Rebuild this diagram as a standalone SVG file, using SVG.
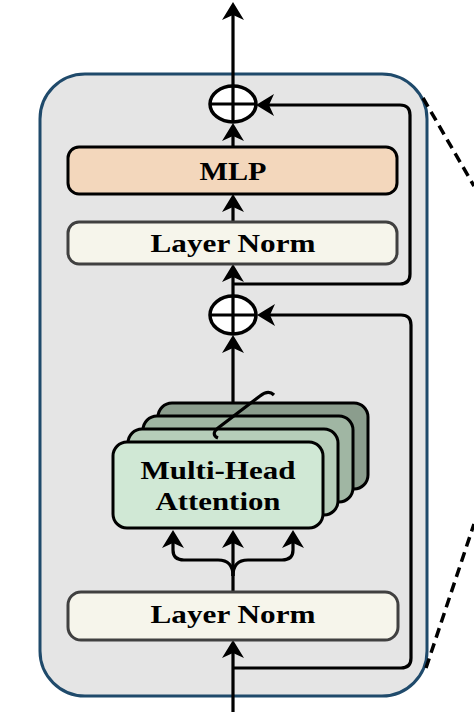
<svg xmlns="http://www.w3.org/2000/svg" width="474" height="712" viewBox="0 0 474 712">
<style>
.box{stroke:#000;stroke-width:3}
.ln{fill:#f6f5eb;stroke:#404040;stroke-width:3}
.lbl{font-family:"Liberation Serif","Times New Roman",serif;font-weight:bold;fill:#000;text-anchor:middle}
.con{fill:none;stroke:#000;stroke-width:3.2}
.arr{marker-end:url(#ah)}
.dash{fill:none;stroke:#000;stroke-width:3.5;stroke-dasharray:10 6}
.add{fill:#fff;stroke:#000;stroke-width:3.5}
</style>
<defs>
<marker id="ah" viewBox="-12 -12 24 24" markerWidth="24" markerHeight="24" markerUnits="userSpaceOnUse" refX="0" refY="0" orient="auto">
<path d="M8,0 L-10,-11 L-5,0 L-10,11 z" fill="#000"/>
</marker>
</defs>
<g id="encoder-block">
<rect x="40" y="74" width="387" height="622" rx="45" fill="#e5e5e5" stroke="#1f4a6b" stroke-width="3"/>
</g>
<g id="connectors">
<path class="con arr" d="M233,86 V10"/>
<path class="con arr" d="M233,147 V131"/>
<path class="con arr" d="M233,222 V202"/>
<path class="con arr" d="M233,295 V272"/>
<path class="con arr" d="M233,284 H400 Q410,284 410,274 V115 Q410,105 400,105 H264"/>
<path class="con arr" d="M233,403 V343"/>
<path class="con arr" d="M233,592 V538"/>
<path class="con arr" d="M233,576 Q233,560 218,560 H184 Q173,560 173,550 V538"/>
<path class="con arr" d="M233,576 Q233,560 248,560 H282 Q293,560 293,550 V538"/>
<path class="con arr" d="M233,712 V648"/>
<path class="con arr" d="M233,668 H401 Q411,668 411,658 V325 Q411,315 401,315 H265"/>
<path class="dash" d="M423,98 L474,186"/>
<path class="dash" d="M426,668 L474,524"/>
</g>
<g id="add1">
<ellipse class="add" cx="233" cy="104" rx="23" ry="18"/>
<path class="con" d="M233,86 V122 M210,104 H256"/>
</g>
<g id="mlp">
<rect class="box" x="68" y="147" width="329" height="47" rx="11" fill="#f3d7bc"/>
<text class="lbl" x="233" y="180" font-size="25" textLength="67" lengthAdjust="spacingAndGlyphs">MLP</text>
</g>
<g id="layernorm-top">
<rect class="ln" x="68" y="222" width="329" height="42" rx="11"/>
<text class="lbl" x="233" y="252" font-size="25" textLength="165" lengthAdjust="spacingAndGlyphs">Layer Norm</text>
</g>
<g id="add2">
<ellipse class="add" cx="233" cy="315" rx="23" ry="19"/>
<path class="con" d="M233,296 V334 M210,315 H256"/>
</g>
<g id="multi-head-attention">
<rect class="box" x="158" y="403" width="210" height="86" rx="14" fill="#8b9d8d"/>
<rect class="box" x="143" y="416" width="210" height="86" rx="14" fill="#a0b6a3"/>
<rect class="box" x="128" y="429" width="210" height="86" rx="14" fill="#b6cdb9"/>
<path class="con" d="M218,438 C213,436 213,432 218,428 L260,396 C265,392 270,391 274,395"/>
<rect class="box" x="113" y="442" width="210" height="86" rx="14" fill="#d0e8d5"/>
<text class="lbl" x="218" y="479" font-size="26" textLength="155" lengthAdjust="spacingAndGlyphs">Multi-Head</text>
<text class="lbl" x="218" y="510" font-size="26" textLength="125" lengthAdjust="spacingAndGlyphs">Attention</text>
</g>
<g id="layernorm-bottom">
<rect class="ln" x="68" y="592" width="330" height="48" rx="13"/>
<text class="lbl" x="233" y="623" font-size="25" textLength="165" lengthAdjust="spacingAndGlyphs">Layer Norm</text>
</g>
</svg>
